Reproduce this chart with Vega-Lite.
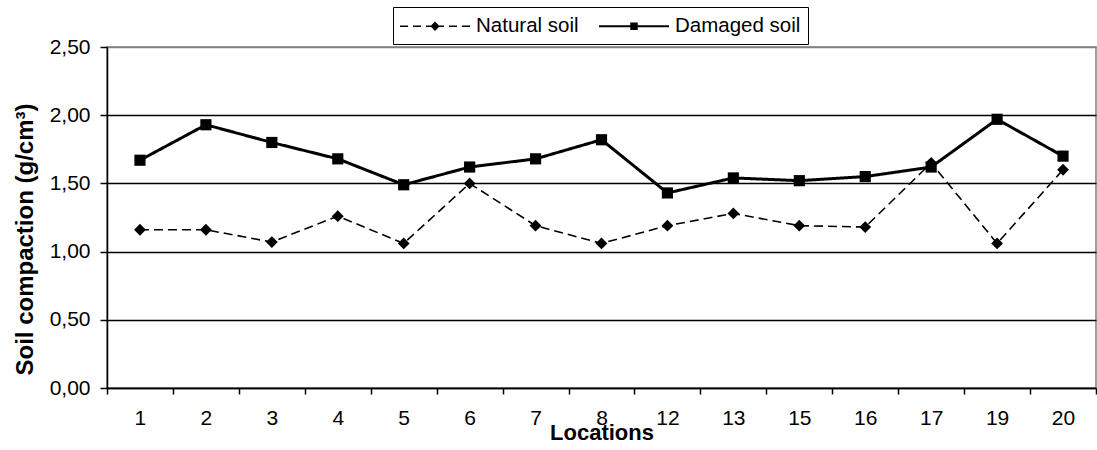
{
  "$schema": "https://vega.github.io/schema/vega-lite/v6.json",
  "width": 989,
  "height": 341,
  "autosize": {"type": "none"},
  "padding": {"left": 107, "top": 47, "right": 1, "bottom": 62},
  "background": "white",
  "config": {
    "font": "Liberation Sans",
    "view": {"stroke": "#808080", "strokeWidth": 1.5},
    "axis": {"labelColor": "black", "titleColor": "black", "domainColor": "black", "tickColor": "black", "labelFont": "Liberation Sans", "titleFont": "Liberation Sans"}
  },
  "data": {
    "values": [
      {"loc": "1", "series": "Natural soil", "value": 1.16},
      {"loc": "2", "series": "Natural soil", "value": 1.16},
      {"loc": "3", "series": "Natural soil", "value": 1.07},
      {"loc": "4", "series": "Natural soil", "value": 1.26},
      {"loc": "5", "series": "Natural soil", "value": 1.06},
      {"loc": "6", "series": "Natural soil", "value": 1.50},
      {"loc": "7", "series": "Natural soil", "value": 1.19},
      {"loc": "8", "series": "Natural soil", "value": 1.06},
      {"loc": "12", "series": "Natural soil", "value": 1.19},
      {"loc": "13", "series": "Natural soil", "value": 1.28},
      {"loc": "15", "series": "Natural soil", "value": 1.19},
      {"loc": "16", "series": "Natural soil", "value": 1.18},
      {"loc": "17", "series": "Natural soil", "value": 1.65},
      {"loc": "19", "series": "Natural soil", "value": 1.06},
      {"loc": "20", "series": "Natural soil", "value": 1.60},
      {"loc": "1", "series": "Damaged soil", "value": 1.67},
      {"loc": "2", "series": "Damaged soil", "value": 1.93},
      {"loc": "3", "series": "Damaged soil", "value": 1.80},
      {"loc": "4", "series": "Damaged soil", "value": 1.68},
      {"loc": "5", "series": "Damaged soil", "value": 1.49},
      {"loc": "6", "series": "Damaged soil", "value": 1.62},
      {"loc": "7", "series": "Damaged soil", "value": 1.68},
      {"loc": "8", "series": "Damaged soil", "value": 1.82},
      {"loc": "12", "series": "Damaged soil", "value": 1.43},
      {"loc": "13", "series": "Damaged soil", "value": 1.54},
      {"loc": "15", "series": "Damaged soil", "value": 1.52},
      {"loc": "16", "series": "Damaged soil", "value": 1.55},
      {"loc": "17", "series": "Damaged soil", "value": 1.62},
      {"loc": "19", "series": "Damaged soil", "value": 1.97},
      {"loc": "20", "series": "Damaged soil", "value": 1.70}
    ]
  },
  "encoding": {
    "x": {
      "field": "loc",
      "type": "ordinal",
      "bandPosition": 0.5,
      "scale": {"type": "band", "domain": ["1","2","3","4","5","6","7","8","12","13","15","16","17","19","20"], "paddingInner": 0, "paddingOuter": 0},
      "axis": {
        "title": "Locations",
        "titleFontSize": 22,
        "titleFontWeight": "bold",
        "titleY": 51,
        "titleBaseline": "alphabetic",
        "labelAngle": 0,
        "labelFontSize": 21,
        "labelPadding": 13,
        "tickBand": "extent",
        "tickSize": 6,
        "tickWidth": 1.5,
        "domainWidth": 1.5,
        "grid": false
      }
    },
    "y": {
      "field": "value",
      "type": "quantitative",
      "scale": {"domain": [0, 2.5], "nice": false, "zero": true},
      "axis": {
        "title": "Soil compaction (g/cm³)",
        "titleFontSize": 24,
        "titleFontWeight": "bold",
        "titleX": -82,
        "titleY": 192,
        "titleAngle": 270,
        "titleAlign": "center",
        "titleBaseline": "middle",
        "values": [0, 0.5, 1, 1.5, 2, 2.5],
        "labelExpr": "replace(format(datum.value, '.2f'), '.', ',')",
        "labelFontSize": 21,
        "labelPadding": 10,
        "tickSize": 7,
        "tickWidth": 1.5,
        "domainWidth": 1.5,
        "grid": true,
        "gridColor": {"condition": {"test": "datum.value == 2.5", "value": "#808080"}, "value": "black"},
        "gridWidth": 1.5,
        "gridOpacity": 1
      }
    }
  },
  "layer": [
    {
      "mark": {"type": "line", "color": "black"},
      "encoding": {
        "detail": {"field": "series", "type": "nominal"},
        "strokeDash": {"condition": {"test": "datum.series == 'Natural soil'", "value": [9, 5]}, "value": [1, 0]},
        "strokeWidth": {"condition": {"test": "datum.series == 'Natural soil'", "value": 1.6}, "value": 3}
      }
    },
    {
      "mark": {"type": "point", "filled": true, "opacity": 1, "color": "black"},
      "encoding": {
        "shape": {"condition": {"test": "datum.series == 'Natural soil'", "value": "diamond"}, "value": "square"},
        "size": {"condition": {"test": "datum.series == 'Natural soil'", "value": 140}, "value": 125}
      }
    },
    {
      "mark": {"type": "point", "filled": true, "opacity": 0, "fill": "black"},
      "encoding": {
        "shape": {
          "field": "series",
          "type": "nominal",
          "scale": {"domain": ["Natural soil", "Damaged soil"], "range": [
            "M-3,-0.06H-2.31V0.06H-3ZM-1.89,-0.06H-1.2V0.06H-1.89ZM-0.77,-0.06H0.77V0.06H-0.77ZM1.2,-0.06H1.89V0.06H1.2ZM2.31,-0.06H3V0.06H2.31ZM0,-0.4L0.4,0L0,0.4L-0.4,0Z",
            "M-3,-0.09H3V0.09H-3ZM-0.32,-0.32H0.32V0.32H-0.32Z"
          ]},
          "legend": {
            "title": null, "orient": "none", "legendX": 286, "legendY": -40, "direction": "horizontal",
            "labelFontSize": 20.5, "labelColor": "black", "labelFont": "Liberation Sans", "symbolSize": 544, "strokeColor": "black", "fillColor": "white",
            "padding": 7, "columnPadding": 20, "labelOffset": 29, "symbolOffset": 23, "symbolStrokeWidth": 0,
            "symbolFillColor": "black", "symbolOpacity": 1
          }
        }
      }
    }
  ]
}
